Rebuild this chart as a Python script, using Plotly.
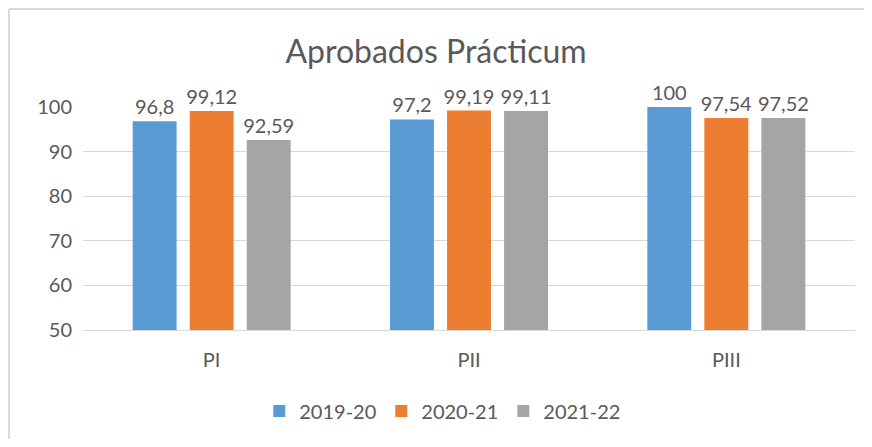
import plotly.graph_objects as go

# Datos del gráfico
categorias = ["PI", "PII", "PIII"]
cursos = ["2019-20", "2020-21", "2021-22"]
valores = {
    "2019-20": [96.8, 97.2, 100],
    "2020-21": [99.12, 99.19, 97.54],
    "2021-22": [92.59, 99.11, 97.52],
}
colores = ["#5b9bd5", "#ed7d31", "#a5a5a5"]

font_gris = "#595959"
fuente = "Lato, Calibri, sans-serif"

fig = go.Figure()
for curso, color in zip(cursos, colores):
    vals = valores[curso]
    fig.add_trace(go.Bar(
        x=categorias, y=vals, name=curso,
        marker=dict(color=color, line=dict(width=0)),
        text=[f"{v:g}".replace(".", ",") for v in vals],
        textposition="outside",
        constraintext="none",
        cliponaxis=False,
        textfont=dict(size=20, color=font_gris, family=fuente),
    ))

# la página añade 8px de margen, así que la figura es algo más pequeña
fig.update_layout(
    width=856, height=431,
    margin=dict(l=75, r=9, t=99, b=109),
    paper_bgcolor="white", plot_bgcolor="white",
    font=dict(family=fuente, color=font_gris, size=20),
    title=dict(text="Aprobados Prácticum", x=0.5, xanchor="center",
               y=0.898, yanchor="middle",
               font=dict(size=32, color=font_gris, family=fuente)),
    barmode="group", bargap=0.335, bargroupgap=0.23,
    legend=dict(orientation="h", x=0.466, xanchor="center", y=-0.363, yanchor="middle",
                font=dict(size=20, color=font_gris), traceorder="normal"),
    showlegend=True,
)
fig.update_yaxes(range=[50, 100], dtick=10, showgrid=True, gridcolor="#d9d9d9",
                 gridwidth=1, zeroline=False, showline=False,
                 tickfont=dict(size=20, color=font_gris), ticklabelstandoff=10)
fig.update_xaxes(showline=True, linecolor="#d9d9d9", linewidth=1,
                 tickfont=dict(size=20, color=font_gris), ticklabelstandoff=12)

# borde del área del gráfico: solo arriba e izquierda
fig.add_shape(type="line", xref="paper", yref="paper",
              x0=-0.0959, x1=-0.0959, y0=-0.7, y1=1.4395,
              line=dict(color="#d9d9d9", width=2), layer="below")
fig.add_shape(type="line", xref="paper", yref="paper",
              x0=-0.0959, x1=1.2, y0=1.4395, y1=1.4395,
              line=dict(color="#d9d9d9", width=2), layer="below")

fig.write_html("out.html")
